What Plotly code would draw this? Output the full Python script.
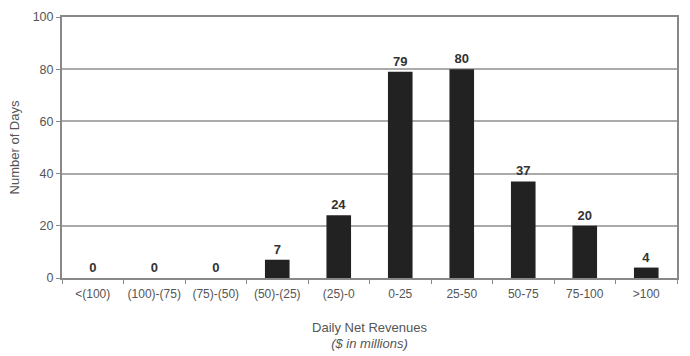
import plotly.graph_objects as go

categories = ["<(100)", "(100)-(75)", "(75)-(50)", "(50)-(25)", "(25)-0",
              "0-25", "25-50", "50-75", "75-100", ">100"]
days = [0, 0, 0, 7, 24, 79, 80, 37, 20, 4]
y_ticks = [0, 20, 40, 60, 80, 100]

fig = go.Figure(go.Bar(
    x=categories, y=days,
    marker=dict(color="#222222", line=dict(width=0)),
    text=[str(v) for v in days], textposition="outside", cliponaxis=False,
    textfont=dict(family="Liberation Sans, Arial", size=13, color="#333333", weight="bold"),
))

fig.update_layout(
    width=690, height=356,
    margin=dict(l=62, r=13, t=10, b=78),
    paper_bgcolor="white", plot_bgcolor="white",
    bargap=0.6, showlegend=False,
    font=dict(family="Liberation Sans, Arial", size=12, color="#555555"),
)
fig.update_xaxes(
    showline=True, linecolor="#888888", linewidth=2, mirror=True,
    ticks="outside", tickson="boundaries", ticklen=4, tickcolor="#888888",
    tickangle=0, automargin=False, ticklabelstandoff=4,
    tickfont=dict(size=12, color="#555555"),
    title=dict(text="Daily Net Revenues<br><i>($ in millions)</i>",
               font=dict(size=13, color="#555555"), standoff=22),
)
fig.update_yaxes(
    range=[0, 100], tickvals=y_ticks,
    showline=True, linecolor="#888888", linewidth=2, mirror=True,
    ticks="outside", ticklen=4, tickcolor="#888888",
    showgrid=True, gridcolor="#aaaaaa", gridwidth=1.5,
    tickfont=dict(size=12.5, color="#555555"),
    title=dict(text="Number of Days", font=dict(size=13, color="#555555"), standoff=10),
)

fig.write_html("out.html")
